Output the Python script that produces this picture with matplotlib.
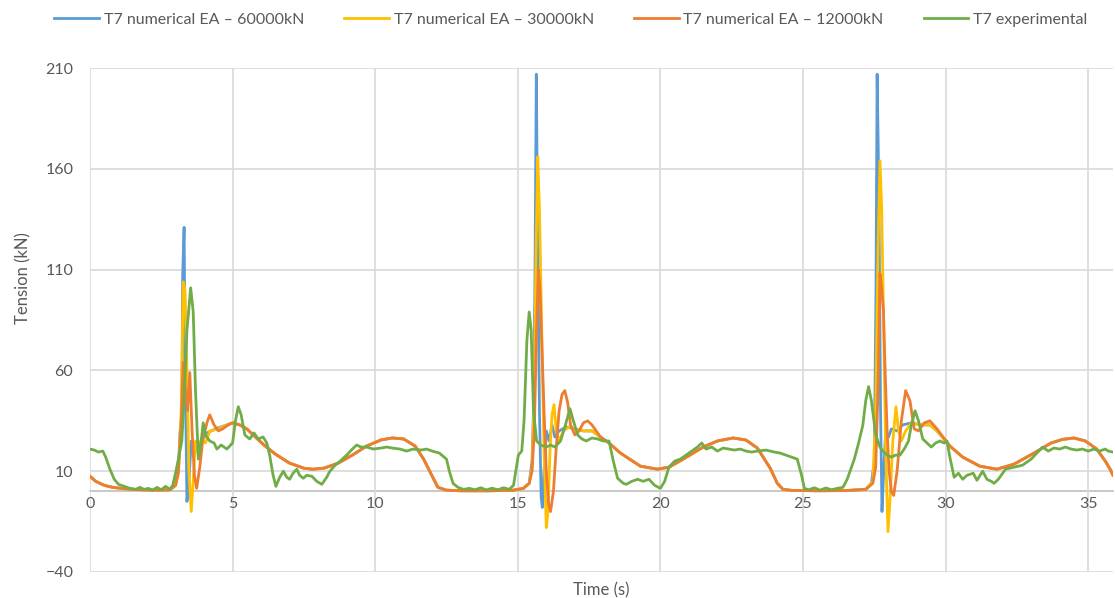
import numpy as np
import matplotlib.pyplot as plt

plt.rcParams['font.family'] = ['Lato', 'DejaVu Sans']

# Mooring line T7 tension histories (time s, tension kN)
ea_60000 = [
    (0.0, 7.5), (0.2, 5.0), (0.5, 3.0), (0.8, 2.0), (1.2, 1.3), (1.8, 0.8), (2.4, 0.6), (2.8, 0.8),
    (3.0, 3), (3.1, 12), (3.16, 30), (3.22, 32), (3.25, 107), (3.3, 131), (3.34, 60), (3.4, -5),
    (3.47, 5), (3.55, 25), (3.65, 18), (3.75, 22), (3.9, 25), (4.1, 29), (4.4, 31), (4.8, 33),
    (5.0, 34), (5.25, 33), (5.5, 31), (5.8, 27), (6.1, 23), (6.5, 18.5), (7.0, 14), (7.5, 11.5),
    (7.8, 11), (8.2, 11.5), (8.7, 14), (9.2, 18), (9.7, 22.5), (10.2, 25.5), (10.6, 26.5), (11.0, 26),
    (11.4, 22.5), (11.7, 16), (12.0, 7.5), (12.2, 2), (12.5, 0.6), (13.0, 0.3), (14.0, 0.3), (14.8, 0.5),
    (15.2, 1.5), (15.4, 4), (15.5, 15), (15.55, 40), (15.6, 101), (15.65, 207), (15.7, 120), (15.76, 40),
    (15.82, -3), (15.86, -8), (15.92, 10), (16.0, 30), (16.1, 25), (16.2, 33), (16.3, 27), (16.45, 30),
    (16.7, 32), (17.0, 31), (17.3, 30), (17.6, 30), (17.9, 27), (18.2, 24), (18.6, 19), (19.3, 12.5),
    (19.9, 11), (20.3, 12), (20.8, 16), (21.5, 22), (22.0, 25), (22.55, 26.5), (23.0, 25.5), (23.4, 21.5),
    (23.85, 11.5), (24.1, 4), (24.3, 1), (24.6, 0.5), (25.5, 0.3), (26.5, 0.4), (27.2, 1), (27.4, 4),
    (27.5, 15), (27.56, 100), (27.6, 207), (27.66, 150), (27.72, 40), (27.77, -10), (27.83, 10), (27.9, 30),
    (28.0, 27), (28.1, 31), (28.3, 30), (28.5, 33), (28.8, 34), (29.1, 33), (29.45, 33), (29.7, 30),
    (30.15, 22.5), (30.6, 17), (31.2, 12.5), (31.8, 11), (32.4, 13.5), (33.1, 19), (33.7, 24), (34.1, 25.8),
    (34.5, 26.5), (34.9, 25), (35.3, 21), (35.6, 15), (35.77, 11), (35.87, 8),
]

ea_30000 = [
    (0.0, 7.5), (0.2, 5.0), (0.5, 3.0), (0.8, 2.0), (1.2, 1.3), (1.8, 0.8), (2.4, 0.6), (2.8, 0.8),
    (3.0, 3), (3.1, 10), (3.2, 40), (3.27, 104), (3.33, 100), (3.4, 60), (3.47, 10), (3.55, -10),
    (3.62, 5), (3.7, 25), (3.8, 18), (3.9, 26), (4.05, 24), (4.2, 30), (4.5, 31), (4.8, 33),
    (5.0, 34), (5.25, 33), (5.5, 31), (5.8, 27), (6.1, 23), (6.5, 18.5), (7.0, 14), (7.5, 11.5),
    (7.8, 11), (8.2, 11.5), (8.7, 14), (9.2, 18), (9.7, 22.5), (10.2, 25.5), (10.6, 26.5), (11.0, 26),
    (11.4, 22.5), (11.7, 16), (12.0, 7.5), (12.2, 2), (12.5, 0.6), (13.0, 0.3), (14.0, 0.3), (14.8, 0.5),
    (15.2, 1.5), (15.4, 4), (15.5, 12), (15.58, 50), (15.64, 120), (15.7, 166), (15.76, 140), (15.84, 80),
    (15.92, 20), (16.0, -18), (16.06, -10), (16.13, 20), (16.2, 38), (16.27, 43), (16.35, 30), (16.45, 25),
    (16.6, 30), (16.8, 32), (17.0, 31), (17.3, 30), (17.6, 30), (17.9, 27), (18.2, 24), (18.6, 19),
    (19.3, 12.5), (19.9, 11), (20.3, 12), (20.8, 16), (21.5, 22), (22.0, 25), (22.55, 26.5), (23.0, 25.5),
    (23.4, 21.5), (23.85, 11.5), (24.1, 4), (24.3, 1), (24.6, 0.5), (25.5, 0.3), (26.5, 0.4), (27.2, 1),
    (27.45, 5), (27.55, 40), (27.63, 120), (27.7, 164), (27.76, 140), (27.82, 90), (27.9, 20), (27.98, -20),
    (28.05, -5), (28.15, 25), (28.26, 42), (28.35, 30), (28.45, 25), (28.6, 30), (28.8, 34), (29.1, 33),
    (29.45, 33), (29.7, 30), (30.15, 22.5), (30.6, 17), (31.2, 12.5), (31.8, 11), (32.4, 13.5), (33.1, 19),
    (33.7, 24), (34.1, 25.8), (34.5, 26.5), (34.9, 25), (35.3, 21), (35.6, 15), (35.77, 11), (35.87, 8),
]

ea_12000 = [
    (0.0, 7.5), (0.2, 5.0), (0.5, 3.0), (0.8, 2.0), (1.2, 1.3), (1.8, 0.8), (2.4, 0.6), (2.8, 0.8),
    (3.0, 3), (3.1, 9), (3.2, 35), (3.27, 64), (3.35, 50), (3.42, 40), (3.5, 59), (3.58, 30),
    (3.66, 8), (3.74, 1.5), (3.85, 12), (3.95, 25), (4.1, 34), (4.2, 38), (4.35, 33), (4.5, 30),
    (4.65, 31), (4.85, 33), (5.0, 34), (5.25, 33), (5.5, 31), (5.8, 27), (6.1, 23), (6.5, 18.5),
    (7.0, 14), (7.5, 11.5), (7.8, 11), (8.2, 11.5), (8.7, 14), (9.2, 18), (9.7, 22.5), (10.2, 25.5),
    (10.6, 26.5), (11.0, 26), (11.4, 22.5), (11.7, 16), (12.0, 7.5), (12.2, 2), (12.5, 0.6), (13.0, 0.3),
    (14.0, 0.3), (14.8, 0.5), (15.2, 1.5), (15.4, 4), (15.5, 10), (15.58, 30), (15.65, 75), (15.72, 110),
    (15.78, 100), (15.85, 70), (15.92, 40), (16.0, 10), (16.08, -6), (16.15, -10), (16.25, 0), (16.35, 22),
    (16.45, 40), (16.55, 48), (16.65, 50), (16.75, 44), (16.85, 33), (17.0, 28), (17.15, 30), (17.3, 34),
    (17.45, 35), (17.6, 33), (17.9, 27), (18.2, 24), (18.6, 19), (19.3, 12.5), (19.9, 11), (20.3, 12),
    (20.8, 16), (21.5, 22), (22.0, 25), (22.55, 26.5), (23.0, 25.5), (23.4, 21.5), (23.85, 11.5), (24.1, 4),
    (24.3, 1), (24.6, 0.5), (25.5, 0.3), (26.5, 0.4), (27.2, 1), (27.45, 4), (27.55, 12), (27.63, 50),
    (27.7, 108), (27.76, 100), (27.82, 90), (27.88, 60), (27.95, 30), (28.02, 10), (28.1, 0), (28.18, -2),
    (28.3, 10), (28.45, 35), (28.6, 50), (28.75, 45), (28.9, 31), (29.05, 30), (29.25, 34), (29.45, 35),
    (29.7, 31), (30.15, 22.5), (30.6, 17), (31.2, 12.5), (31.8, 11), (32.4, 13.5), (33.1, 19), (33.7, 24),
    (34.1, 25.8), (34.5, 26.5), (34.9, 25), (35.3, 21), (35.6, 15), (35.77, 11), (35.87, 8),
]

experimental = [
    (0.0, 21), (0.15, 20.5), (0.3, 19.5), (0.45, 20), (0.55, 17), (0.7, 11), (0.85, 6), (1.0, 3.5),
    (1.2, 2.5), (1.4, 1.5), (1.6, 1), (1.75, 2), (1.9, 1), (2.05, 1.5), (2.2, 0.5), (2.35, 2),
    (2.5, 0.8), (2.65, 2.5), (2.8, 1), (2.9, 3), (3.0, 9), (3.1, 16), (3.22, 25), (3.3, 45),
    (3.4, 80), (3.53, 101), (3.62, 89), (3.7, 50), (3.8, 16), (3.9, 25), (3.97, 34), (4.05, 28),
    (4.2, 25), (4.35, 24), (4.45, 21), (4.6, 23), (4.8, 21), (5.0, 24), (5.1, 35), (5.2, 42),
    (5.3, 38), (5.43, 28), (5.6, 26), (5.75, 29), (5.9, 26), (6.07, 27), (6.2, 24), (6.3, 18),
    (6.42, 8), (6.52, 2.5), (6.65, 7), (6.78, 10), (6.9, 7), (7.0, 6), (7.12, 9), (7.25, 11),
    (7.35, 8), (7.48, 6.5), (7.6, 8), (7.78, 7.5), (7.95, 5), (8.13, 3.5), (8.3, 7), (8.41, 10),
    (8.6, 13), (8.77, 15), (9.0, 18), (9.2, 21), (9.35, 23), (9.5, 22), (9.7, 22), (9.93, 21),
    (10.2, 21.5), (10.4, 22), (10.6, 21.5), (10.87, 21), (11.1, 20), (11.33, 21), (11.6, 20.5), (11.8, 21),
    (12.0, 20), (12.25, 19), (12.5, 16), (12.6, 10), (12.73, 4), (12.9, 2), (13.1, 1), (13.3, 1.5),
    (13.5, 0.8), (13.7, 1.8), (13.9, 0.7), (14.1, 1.6), (14.3, 0.8), (14.5, 1.8), (14.7, 1), (14.85, 3),
    (14.95, 12), (15.02, 18), (15.14, 20), (15.22, 35), (15.32, 75), (15.4, 89), (15.47, 80), (15.55, 40),
    (15.66, 25), (15.8, 23), (16.0, 22), (16.15, 23), (16.3, 22), (16.5, 25), (16.65, 32), (16.83, 41),
    (16.95, 35), (17.1, 28), (17.25, 26), (17.4, 25), (17.6, 26.5), (17.8, 26), (18.0, 25), (18.2, 25),
    (18.35, 15), (18.5, 6.5), (18.7, 4), (18.8, 3.5), (19.0, 5), (19.2, 6), (19.4, 5), (19.6, 6),
    (19.8, 3), (20.0, 1.5), (20.15, 5), (20.3, 12), (20.5, 15), (20.7, 16), (20.9, 18), (21.1, 20),
    (21.3, 22), (21.45, 24), (21.6, 21), (21.8, 22), (22.0, 20), (22.2, 21.5), (22.4, 21), (22.6, 20.5),
    (22.8, 21), (23.0, 20), (23.2, 19.5), (23.4, 20), (23.7, 20.5), (24.0, 19.5), (24.2, 19), (24.5, 17.5),
    (24.8, 16), (24.95, 8), (25.05, 1.5), (25.2, 0.8), (25.4, 1.8), (25.6, 0.6), (25.8, 1.7), (26.0, 0.8),
    (26.2, 1.5), (26.4, 2), (26.55, 6), (26.7, 12), (26.8, 16), (26.95, 24), (27.1, 33), (27.2, 45),
    (27.3, 52), (27.4, 45), (27.55, 28), (27.7, 22), (27.8, 20), (27.95, 18), (28.1, 17), (28.25, 18),
    (28.4, 18), (28.55, 21), (28.7, 25), (28.8, 33), (28.93, 40), (29.05, 35), (29.2, 26), (29.35, 24),
    (29.5, 22), (29.65, 24), (29.8, 25), (29.95, 24), (30.05, 25), (30.15, 17), (30.3, 7), (30.45, 9),
    (30.6, 6), (30.75, 8), (30.97, 9), (31.1, 5.5), (31.3, 10), (31.45, 6), (31.6, 5), (31.7, 4),
    (31.85, 6), (32.1, 11), (32.4, 12), (32.7, 13), (33.0, 16), (33.2, 19), (33.4, 22), (33.6, 20),
    (33.8, 21.5), (34.0, 21), (34.2, 22), (34.4, 21), (34.6, 20.5), (34.8, 21), (35.0, 20), (35.2, 21),
    (35.4, 20), (35.6, 21), (35.7, 20), (35.87, 19.5),
]

series = [
    ('T7 numerical EA – 60000kN', ea_60000, '#5B9BD5'),
    ('T7 numerical EA – 30000kN', ea_30000, '#FFC000'),
    ('T7 numerical EA – 12000kN', ea_12000, '#ED7D31'),
    ('T7 experimental', experimental, '#70AD47'),
]

texto = '#595959'
grade = '#d9d9d9'

fig = plt.figure(figsize=(11.15, 5.98), dpi=100)
ax = fig.add_axes([0.0807, 0.0435, 0.9175, 0.8425])

for nome, dados, cor in series:
    t, v = np.array(dados).T
    ax.plot(t, v, color=cor, linewidth=2.0, label=nome, solid_joinstyle='round')

ax.set_xlim(0, 35.87)
ax.set_ylim(-40, 210)
ax.set_xticks(np.arange(0, 36, 5))
ax.set_yticks([-40, 10, 60, 110, 160, 210])
ax.grid(True, color=grade, linewidth=1.2)
ax.set_axisbelow(True)

for lado in ['top', 'right', 'left']:
    ax.spines[lado].set_visible(False)
ax.spines['bottom'].set_position(('data', 0))
ax.spines['bottom'].set_color('#bfbfbf')
ax.spines['bottom'].set_linewidth(1.2)
ax.spines['bottom'].set_zorder(0.5)

ax.tick_params(axis='both', length=0, labelsize=11.5, labelcolor=texto)
ax.tick_params(axis='x', pad=4)
ax.tick_params(axis='y', pad=12)

fig.text(0.5395, 0.013, 'Time (s)', ha='center', va='center', fontsize=12, color=texto)
fig.text(0.021, 0.535, 'Tension (kN)', ha='center', va='center', rotation=90, fontsize=12, color=texto)

fig.legend(loc='center', bbox_to_anchor=(0.512, 0.967), ncol=4, frameon=False,
           fontsize=11.5, labelcolor=texto, handlelength=2.8, handletextpad=0.3,
           columnspacing=2.5)

fig.savefig('out.png', dpi=100)
